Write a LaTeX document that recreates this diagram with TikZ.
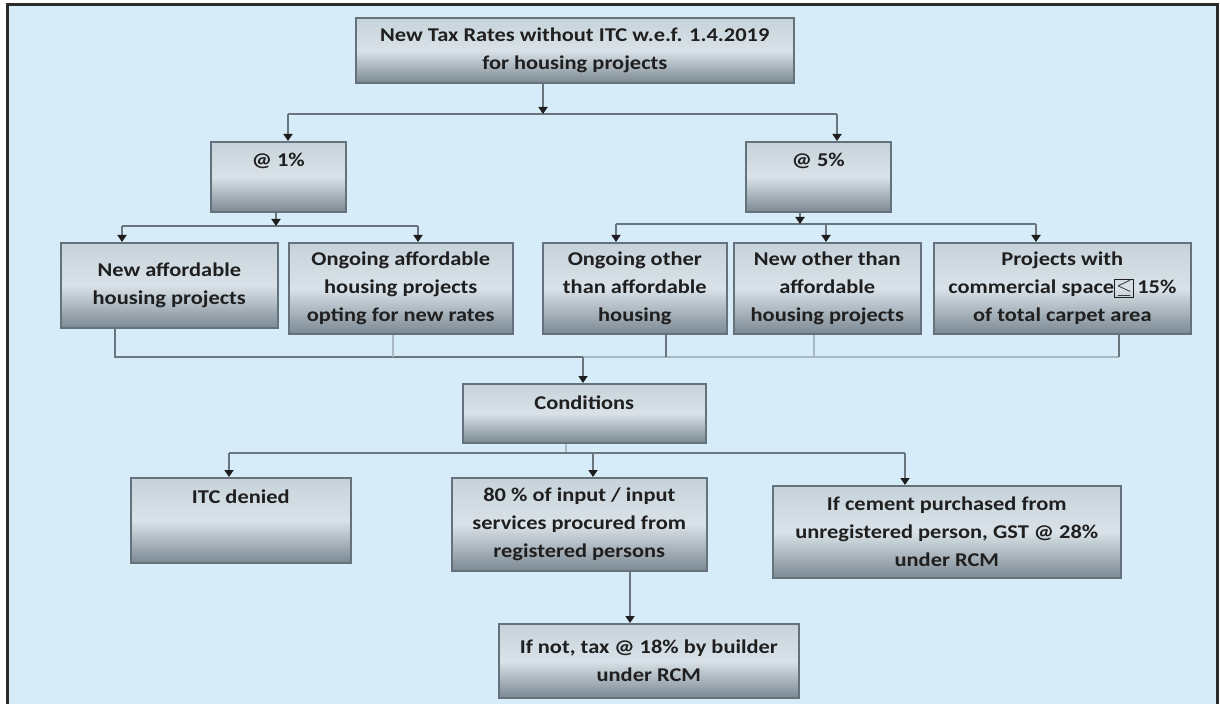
\documentclass[tikz,border=0pt]{standalone}
\usepackage{fontspec}
\setmainfont{Carlito}[FakeStretch=1.15]
\usepackage{tikz}
\usetikzlibrary{arrows.meta,positioning,calc}
\definecolor{panelblue}{HTML}{D6ECF9}
\definecolor{framegrey}{HTML}{2B2B2B}
\definecolor{boxtop}{HTML}{C6D2DA}
\definecolor{boxmid}{HTML}{D9E2E8}
\definecolor{boxbot}{HTML}{7C8993}
\definecolor{boxedge}{HTML}{66727B}
\definecolor{linkgrey}{HTML}{6A757E}
\definecolor{fadegrey}{HTML}{A9B8C2}
\definecolor{tipdark}{HTML}{1E1E1E}
\definecolor{labeltext}{HTML}{1F1F1F}
\setlength{\fboxsep}{0.6pt}
\setlength{\fboxrule}{1.2pt}

\begin{document}
\begin{tikzpicture}[x=1pt, y=-1pt,
  every node/.style={font=\bfseries\fontsize{19.5}{28}\selectfont, text=labeltext},
  box/.style={draw=boxedge, line width=1.6pt, top color=boxtop, bottom color=boxbot,
    middle color=boxmid, anchor=north west, align=center, inner sep=2pt},
  link/.style={draw=linkgrey, line width=2.4pt},
  faint/.style={draw=fadegrey, line width=1.6pt},
  arr/.style={link, -{Triangle[width=9pt, length=7pt, color=tipdark]}}]
\fill[white] (0,0) rectangle (1220,704);
\fill[panelblue] (7,5) rectangle (1217,704);
\draw[framegrey, line width=3pt] (7,704) -- (7,5) -- (1217,5) -- (1217,704);
\useasboundingbox (0,0) rectangle (1220,704);
\node[box, minimum width=438pt, minimum height=65pt] (top) at (355,17)
  {New Tax Rates without ITC w.e.f. 1.4.2019\\for housing projects};
\node[box, minimum width=135pt, minimum height=70pt, text height=23pt, text depth=43pt]
  (one) at (210,141) {@ 1\%};
\node[box, minimum width=145pt, minimum height=70pt, text height=23pt, text depth=43pt]
  (five) at (745,141) {@ 5\%};
\node[box, minimum width=217pt, minimum height=85pt] (naff) at (60,242)
  {New affordable\\housing projects};
\node[box, minimum width=224pt, minimum height=91pt] (oaff) at (288,242)
  {Ongoing affordable\\housing projects\\opting for new rates};
\node[box, minimum width=184pt, minimum height=91pt] (oth) at (542,242)
  {Ongoing other\\than affordable\\housing};
\node[box, minimum width=187pt, minimum height=91pt] (nth) at (733,242)
  {New other than\\affordable\\housing projects};
\node[box, minimum width=257pt, minimum height=91pt] (proj) at (933,242)
  {Projects with\\commercial space\fbox{$\le$}\,15\%\\of total carpet area};
\node[box, minimum width=243pt, minimum height=59pt, text height=24pt, text depth=31pt]
  (cond) at (462,383) {Conditions};
\node[box, minimum width=220pt, minimum height=85pt, text height=24pt, text depth=57pt]
  (itc) at (130,477) {ITC denied};
\node[box, minimum width=255pt, minimum height=93pt] (eighty) at (451,477)
  {80 \% of input / input\\services procured from\\registered persons};
\node[box, minimum width=348pt, minimum height=92pt] (cement) at (772,485)
  {If cement purchased from\\unregistered person, GST @ 28\%\\under RCM};
\node[box, minimum width=300pt, minimum height=74pt] (notb) at (498,623)
  {If not, tax @ 18\% by builder\\under RCM};
\coordinate (rsplit) at (543,114);
\coordinate (lsplit) at (276,226);
\coordinate (msplit) at (800,224);
\coordinate (join) at (583,357);
\draw[link] (288,114) coordinate (rl) -- (837,114) coordinate (rr);
\draw[arr] (top.south -| rsplit) -- (rsplit);
\draw[arr] (rl) -- (rl |- one.north);
\draw[arr] (rr) -- (rr |- five.north);
\draw[link] (122,226) -- (418,226);
\draw[arr] (one.south -| lsplit) -- (lsplit);
\foreach \x/\dst in {122/naff, 418/oaff}
  \draw[arr] (\x,226) -- (\x,0 |- \dst.north);
\draw[link] (616,224) -- (1036,224);
\draw[arr] (five.south -| msplit) -- (msplit);
\foreach \x/\dst in {616/oth, 826/nth, 1036/proj}
  \draw[arr] (\x,224) -- (\x,0 |- \dst.north);
\draw[link] (115,0 |- naff.south) -- (115,357) -- (join);
\draw[link, draw=fadegrey] (join) -- (1119,357);
\foreach \x/\src in {666/oth, 1119/proj}
  \draw[link] (\x,0 |- \src.south) -- (\x,357);
\foreach \x/\src in {393/oaff, 814/nth}
  \draw[faint] (\x,0 |- \src.south) -- (\x,357);
\draw[arr] (join) -- (join |- cond.north);
\draw[faint] (566,0 |- cond.south) -- (566,453);
\draw[link] (229,453) -- (905,453);
\foreach \x/\dst in {229/itc, 593/eighty, 905/cement}
  \draw[arr] (\x,453) -- (\x,0 |- \dst.north);
\draw[arr] (630,0 |- eighty.south) -- (630,0 |- notb.north);
\end{tikzpicture}
\end{document}
